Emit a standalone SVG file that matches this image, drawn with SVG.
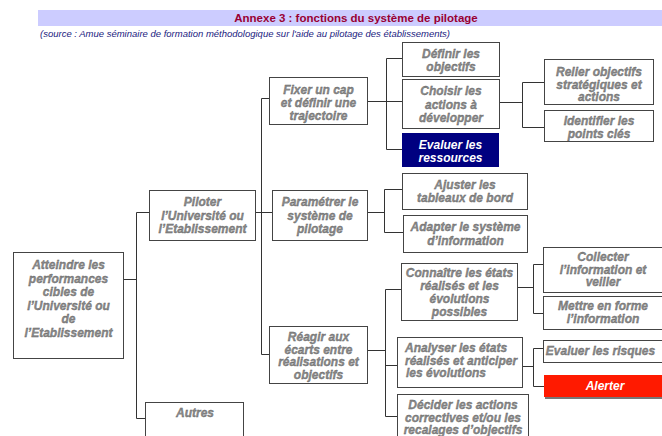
<svg xmlns="http://www.w3.org/2000/svg" width="662" height="436" viewBox="0 0 662 436">
<style>
.box{fill:#fff;stroke:#444;stroke-width:1}
.t{font-family:'Liberation Sans',Arial,sans-serif;font-size:12px;font-weight:bold;font-style:italic;fill:#8a8a8a;stroke:#5a5a5a;stroke-width:0.3;text-anchor:middle}
.w{fill:#fff;stroke:none}
.l{text-anchor:start}
.c{fill:none;stroke:#333;stroke-width:1}
</style>
<rect x="38" y="10" width="624" height="16" fill="#ccccff"/>
<text x="356" y="22" font-family="'Liberation Sans',Arial,sans-serif" font-size="11.5" font-weight="bold" fill="#990033" text-anchor="middle">Annexe 3 : fonctions du système de pilotage</text>
<text x="40" y="37" font-family="'Liberation Sans',Arial,sans-serif" font-size="9" font-style="italic" fill="#1a1a80" textLength="410" lengthAdjust="spacingAndGlyphs">(source : Amue séminaire de formation méthodologique sur l'aide au pilotage des établissements)</text>
<g id="connectors" class="c">
<path d="M123.5,279.5H136.5M136.5,212.5V418.5M136.5,212.5H149M136.5,418.5H146"/>
<path d="M255,212.5H272M261.5,98.5V354.5M261.5,98.5H269M261.5,354.5H269"/>
<path d="M367,101.5H402M386.5,58.5V149.5M386.5,58.5H402M386.5,149.5H402"/>
<path d="M367,212.5H384.5M384.5,189.5V232.5M384.5,189.5H402M384.5,232.5H403"/>
<path d="M499,102.5H522.5M522.5,82.5V127.5M522.5,82.5H544M522.5,127.5H544"/>
<path d="M367,350.5H385.5M385.5,289.5V416.5M385.5,289.5H401M385.5,365.5H397M385.5,416.5H397"/>
<path d="M517,287.5H533.5M533.5,264.5V313.5M533.5,264.5H543M533.5,313.5H543"/>
<path d="M522,366.5H533.5M533.5,348.5V386.5M533.5,348.5H543M533.5,386.5H544"/>
</g>
<g id="atteindre"><rect class="box" x="13.5" y="252.5" width="110" height="106"/>
<text class="t" x="68.5"><tspan x="68.5" y="269">Atteindre les</tspan><tspan x="68.5" y="282.5">performances</tspan><tspan x="68.5" y="296">cibles de</tspan><tspan x="68.5" y="309.5">l’Université ou</tspan><tspan x="68.5" y="323">de</tspan><tspan x="68.5" y="336.5">l’Etablissement</tspan></text></g>
<g id="piloter"><rect class="box" x="149.5" y="190.5" width="106" height="50"/>
<text class="t"><tspan x="202.5" y="206">Piloter</tspan><tspan x="202.5" y="219.5">l’Université ou</tspan><tspan x="202.5" y="233">l’Etablissement</tspan></text></g>
<g id="autres"><rect class="box" x="145.5" y="402.5" width="98" height="40"/>
<text class="t" x="195" y="417">Autres</text></g>
<g id="fixer"><rect class="box" x="269.5" y="77.5" width="98" height="47"/>
<text class="t"><tspan x="318.5" y="94">Fixer un cap</tspan><tspan x="318.5" y="107">et définir une</tspan><tspan x="318.5" y="120">trajectoire</tspan></text></g>
<g id="parametrer"><rect class="box" x="272.5" y="190.5" width="95" height="50"/>
<text class="t"><tspan x="320" y="206">Paramétrer le</tspan><tspan x="320" y="219.5">système de</tspan><tspan x="320" y="233">pilotage</tspan></text></g>
<g id="reagir"><rect class="box" x="269.5" y="326.5" width="98" height="57"/>
<text class="t"><tspan x="318.5" y="341">Réagir aux</tspan><tspan x="318.5" y="353.5">écarts entre</tspan><tspan x="318.5" y="366">réalisations et</tspan><tspan x="318.5" y="378.5">objectifs</tspan></text></g>
<g id="definir"><rect class="box" x="402.5" y="42.5" width="97" height="34"/>
<text class="t"><tspan x="451" y="58">Définir les</tspan><tspan x="451" y="71">objectifs</tspan></text></g>
<g id="choisir"><rect class="box" x="402.5" y="79.5" width="97" height="49"/>
<text class="t"><tspan x="451" y="95">Choisir les</tspan><tspan x="451" y="108.5">actions à</tspan><tspan x="451" y="122">développer</tspan></text></g>
<g id="evaluer-ressources"><rect x="402" y="133" width="97" height="34" fill="#000080"/>
<text class="t w"><tspan x="450.5" y="149">Evaluer les</tspan><tspan x="450.5" y="162">ressources</tspan></text></g>
<g id="ajuster"><rect class="box" x="402.5" y="173.5" width="125" height="36"/>
<text class="t"><tspan x="465" y="189">Ajuster les</tspan><tspan x="465" y="202">tableaux de bord</tspan></text></g>
<g id="adapter"><rect class="box" x="403.5" y="215.5" width="124" height="37"/>
<text class="t"><tspan x="465.5" y="231">Adapter le système</tspan><tspan x="465.5" y="245">d’information</tspan></text></g>
<g id="relier"><rect class="box" x="544.5" y="59.5" width="109" height="45"/>
<text class="t"><tspan x="599" y="76">Relier objectifs</tspan><tspan x="599" y="88.5">stratégiques et</tspan><tspan x="599" y="101">actions</tspan></text></g>
<g id="identifier"><rect class="box" x="544.5" y="110.5" width="109" height="31"/>
<text class="t"><tspan x="599" y="124.5">Identifier les</tspan><tspan x="599" y="137.5">points clés</tspan></text></g>
<g id="connaitre"><rect class="box" x="401.5" y="263.5" width="116" height="57"/>
<text class="t"><tspan x="459.5" y="277">Connaître les états</tspan><tspan x="459.5" y="290">réalisés et les</tspan><tspan x="459.5" y="303">évolutions</tspan><tspan x="459.5" y="315.5">possibles</tspan></text></g>
<g id="collecter"><rect class="box" x="543.5" y="247.5" width="120" height="45"/>
<text class="t"><tspan x="603" y="261">Collecter</tspan><tspan x="603" y="273.5">l’information et</tspan><tspan x="603" y="286">veiller</tspan></text></g>
<g id="mettre"><rect class="box" x="543.5" y="296.5" width="120" height="33"/>
<text class="t"><tspan x="603" y="310">Mettre en forme</tspan><tspan x="603" y="323">l’information</tspan></text></g>
<g id="analyser"><rect class="box" x="397.5" y="337.5" width="125" height="50"/>
<text class="t l"><tspan x="405" y="352">Analyser les états</tspan><tspan x="405" y="364.5">réalisés et anticiper</tspan><tspan x="406" y="377">les évolutions</tspan></text></g>
<g id="evaluer-risques"><rect class="box" x="543.5" y="340.5" width="120" height="22"/>
<text class="t" x="600.5" y="355">Evaluer les risques</text></g>
<g id="alerter"><rect x="545" y="376" width="120" height="23" fill="#777"/><rect x="544" y="375" width="120" height="22" fill="#ff1a00"/>
<text class="t w" x="605" y="390">Alerter</text></g>
<g id="decider"><rect class="box" x="397.5" y="394.5" width="131" height="48"/>
<text class="t"><tspan x="463" y="409">Décider les actions</tspan><tspan x="463" y="421.5">correctives et/ou les</tspan><tspan x="463" y="434">recalages d’objectifs</tspan></text></g>
</svg>
